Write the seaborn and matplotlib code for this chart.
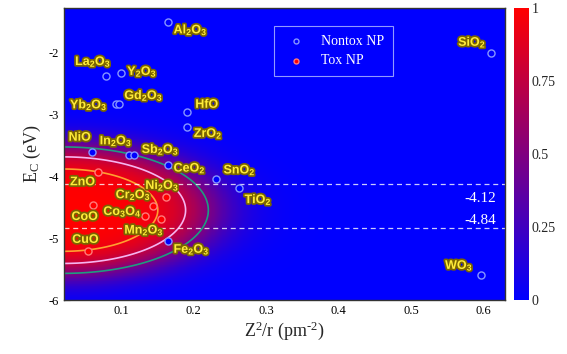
import matplotlib
matplotlib.use("Agg")
import matplotlib.pyplot as plt
import matplotlib.patheffects as pe
from matplotlib.colors import LinearSegmentedColormap
import numpy as np
import pandas as pd
import seaborn as sns

# --- data ---
nontox_names = ["Al2O3", "La2O3", "Y2O3", "Yb2O3", "Gd2O3", "HfO", "ZrO2", "NiO",
                "In2O3", "Sb2O3", "CeO2", "SnO2", "TiO2", "SiO2", "WO3", "Fe2O3"]
nontox_x = [0.165, 0.078, 0.100, 0.092, 0.096, 0.191, 0.190, 0.059,
            0.111, 0.118, 0.164, 0.230, 0.262, 0.611, 0.596, 0.164]
nontox_y = [-1.51, -2.38, -2.34, -2.84, -2.84, -2.97, -3.21, -3.61,
            -3.66, -3.66, -3.82, -4.05, -4.20, -2.02, -5.60, -5.05]

tox_names = ["ZnO", "CoO", "CuO", "Ni2O3", "Cr2O3", "Co3O4", "Mn2O3"]
tox_x = [0.067, 0.061, 0.054, 0.161, 0.144, 0.133, 0.154]
tox_y = [-3.93, -4.46, -5.21, -4.34, -4.48, -4.64, -4.70]

# label text anchors (left / centre)
label_pos = {
    "Al2O3": (0.172, -1.64), "La2O3": (0.036, -2.15), "Y2O3": (0.108, -2.31),
    "Yb2O3": (0.029, -2.85), "Gd2O3": (0.104, -2.70), "HfO": (0.202, -2.85),
    "ZrO2": (0.200, -3.31), "NiO": (0.027, -3.38), "In2O3": (0.070, -3.43),
    "Sb2O3": (0.128, -3.57), "CeO2": (0.172, -3.87), "SnO2": (0.241, -3.90),
    "TiO2": (0.270, -4.38), "SiO2": (0.565, -1.84), "WO3": (0.547, -5.44),
    "Fe2O3": (0.172, -5.18), "ZnO": (0.029, -4.10), "CoO": (0.031, -4.66),
    "CuO": (0.032, -5.03), "Ni2O3": (0.133, -4.15), "Cr2O3": (0.092, -4.30),
    "Co3O4": (0.075, -4.57), "Mn2O3": (0.104, -4.87),
}

# toxicity probability surface (centre / half-widths of the p=0.5 ellipse)
field_x0, field_y0 = 0.02, -4.55
field_ax, field_ay = 0.20, 1.02
field_k = 7.0
contour_levels = [0.5, 0.75, 0.92]
window_lo, window_hi = -4.84, -4.12


def fmt_name(s):
    out = ""
    for ch in s:
        out += r"$_\mathbf{%s}$" % ch if ch.isdigit() else ch
    return out


sns.set_style("ticks")
plt.rcParams["font.family"] = ["Liberation Serif", "DejaVu Serif"]
plt.rcParams["axes.unicode_minus"] = False
plt.rcParams["mathtext.fontset"] = "custom"
plt.rcParams["mathtext.rm"] = "Liberation Serif"
plt.rcParams["mathtext.it"] = "Liberation Serif:italic"
plt.rcParams["mathtext.bf"] = "Liberation Sans:bold"

fig = plt.figure(figsize=(5.67, 3.54), dpi=100)
ax = fig.add_axes([0.112, 0.1525, 0.779, 0.8245])
cax = fig.add_axes([0.9065, 0.1525, 0.026, 0.8245])

xlim = (0.02, 0.63)
ylim = (-6, -1.29)

gx = np.linspace(xlim[0], xlim[1], 400)
gy = np.linspace(ylim[0], ylim[1], 400)
X, Y = np.meshgrid(gx, gy)
R = np.sqrt(((X - field_x0) / field_ax) ** 2 + ((Y - field_y0) / field_ay) ** 2)
P = 1.0 / (1.0 + np.exp(field_k * (R - 1.0)))

cmap = LinearSegmentedColormap.from_list("blue_red", ["#0000ff", "#ff0000"])
mesh = ax.pcolormesh(X, Y, P, cmap=cmap, vmin=0, vmax=1, shading="auto")
ax.contour(X, Y, P, levels=contour_levels,
           colors=["#1f9c80", "#f6b4f0", "#ffa030"], linewidths=1.2)

for yv in (window_hi, window_lo):
    ax.axhline(yv, color="white", ls=(0, (4, 3)), lw=0.9, alpha=0.8)
ax.text(0.618, -4.36, "-4.12", color="white", fontsize=11, ha="right", va="center")
ax.text(0.618, -4.72, "-4.84", color="white", fontsize=11, ha="right", va="center")

nontox = pd.DataFrame({"x": nontox_x, "y": nontox_y})
tox = pd.DataFrame({"x": tox_x, "y": tox_y})
sns.scatterplot(data=nontox, x="x", y="y", ax=ax, s=26, marker="o",
                facecolor="#0000ff", edgecolor="#8595ff", linewidth=1.0,
                label="Nontox NP", zorder=5)
sns.scatterplot(data=tox, x="x", y="y", ax=ax, s=26, marker="o",
                facecolor="#ff0000", edgecolor="#ff7a7a", linewidth=1.0,
                label="Tox NP", zorder=5)

glow = [pe.withStroke(linewidth=2.5, foreground="#7a6400")]
for name in nontox_names + tox_names:
    lx, ly = label_pos[name]
    ax.text(lx, ly, fmt_name(name), family="Liberation Sans", fontweight="bold",
            fontsize=9, color="#ffec3a", ha="left", va="center",
            path_effects=glow, zorder=6)

leg = ax.legend(loc="upper left", bbox_to_anchor=(0.461, 0.962), frameon=True,
                fontsize=10, labelcolor="white", handletextpad=0.8,
                borderpad=0.6, fancybox=False, markerscale=0.7)
leg.get_frame().set_facecolor("none")
leg.get_frame().set_edgecolor("#b8c0ff")
leg.get_frame().set_linewidth(0.8)

ax.set_xlim(*xlim)
ax.set_ylim(*ylim)
ax.set_xticks([0.1, 0.2, 0.3, 0.4, 0.5, 0.6])
ax.set_yticks([-6, -5, -4, -3, -2])
ax.tick_params(direction="in", length=4, labelsize=9, colors="black")
ax.set_xlabel(r"Z$^2$/r (pm$^{\text{-}2}$)", fontsize=13, labelpad=2)
ax.set_ylabel(r"E$_\mathrm{C}$ (eV)", fontsize=13, labelpad=4)
for sp in ax.spines.values():
    sp.set_color("#333333")
    sp.set_linewidth(1.0)

cb = fig.colorbar(mesh, cax=cax)
cb.outline.set_visible(False)
cb.set_ticks([0, 0.25, 0.5, 0.75, 1])
cb.set_ticklabels(["0", "0.25", "0.5", "0.75", "1"])
cb.ax.tick_params(length=0, labelsize=10, pad=2)

fig.savefig("out.png", dpi=100)
